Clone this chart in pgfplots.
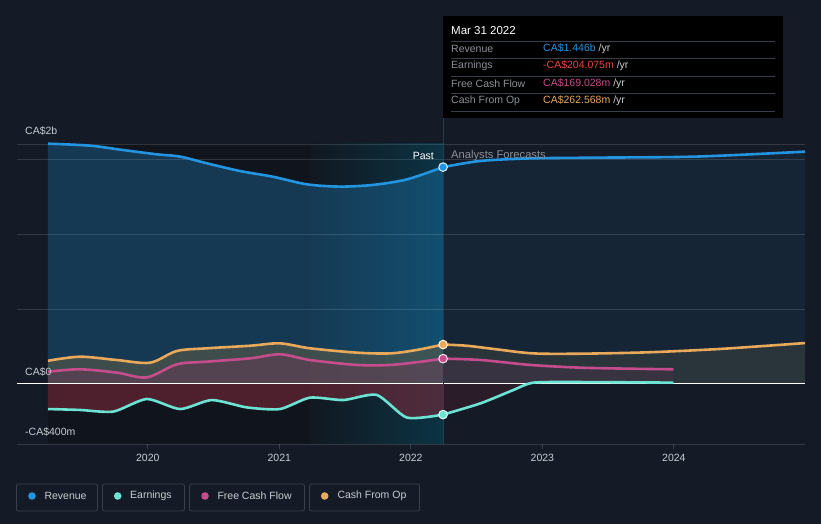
\documentclass[border=0pt]{standalone}
\usepackage{pgfplots}
\pgfplotsset{compat=1.18}
\usepackage{fontspec}
\setmainfont{Liberation Sans}

\definecolor{bg}{HTML}{151B26}
\definecolor{pastdark}{HTML}{10151D}
\definecolor{bandl}{HTML}{111820}
\definecolor{bandr}{HTML}{0C3444}
\definecolor{gridc}{HTML}{3A404B}
\definecolor{vline}{HTML}{23404A}
\definecolor{tickc}{HTML}{C8CCD2}
\definecolor{labc}{HTML}{8C9097}
\definecolor{revc}{HTML}{2394DF}
\definecolor{earnc}{HTML}{6CE3D3}
\definecolor{fcfc}{HTML}{C64D8B}
\definecolor{cfoc}{HTML}{E8AA5A}
\definecolor{redc}{HTML}{E8473F}
\definecolor{cfofill}{HTML}{5A5A48}
\definecolor{cfofillf}{HTML}{505046}
\definecolor{fcffill}{HTML}{6E3A55}
\definecolor{fcffillf}{HTML}{5F3255}
\definecolor{earnfill}{HTML}{82283A}
\definecolor{earnfillf}{HTML}{6A2535}

\begin{document}
\begin{tikzpicture}[x=1pt,y=1pt]
\fill[bg] (0,0) rectangle (821,524);
\begin{axis}[
    at={(17pt,80pt)}, anchor=south west,
    scale only axis, width=788pt, height=300pt,
    xmin=2019.0053, xmax=2024.997,
    ymin=-400, ymax=1600,
    axis line style={draw=none},
    ytick=\empty,
    xtick={2020,2021,2022,2023,2024},
    xticklabels={2020,2021,2022,2023,2024},
    tick align=outside, tick pos=left,
    major tick length=5pt,
    x tick style={draw=gridc, line width=0.8pt},
    xticklabel style={font=\fontsize{10.5}{12}\selectfont, text=tickc, yshift=-2pt},
    clip=false,
]
% past region and last-year band
\fill[pastdark] (axis cs:2019.241,-400) rectangle (axis cs:2021.233,1600);
\shade[left color=bandl, right color=bandr]
    (axis cs:2021.233,-400) rectangle (axis cs:2022.245,1600);

% areas
\addplot[draw=none, fill=revc, fill opacity=0.28, smooth, tension=0.5] coordinates {
(2019.241,1602) (2019.56,1589) (2019.81,1560) (2020.07,1531) (2020.245,1516)
(2020.45,1471) (2020.70,1420) (2020.95,1382) (2021.21,1331) (2021.46,1316)
(2021.71,1327) (2021.97,1364) (2022.245,1446)
} \closedcycle;
\addplot[draw=none, fill=revc, fill opacity=0.09, smooth, tension=0.5] coordinates {
(2022.245,1446) (2022.53,1487) (2022.91,1504) (2023.41,1509) (2024.17,1516) (2024.997,1549)
} \closedcycle;

\addplot[draw=none, fill=cfofill, fill opacity=0.6, smooth, tension=0.5] coordinates {
(2019.241,155) (2019.484,182) (2019.763,160) (2020.017,142) (2020.22,220)
(2020.45,238) (2020.777,255) (2021.005,271) (2021.233,238) (2021.589,209)
(2021.842,204) (2022.045,227) (2022.245,263)
} \closedcycle;
\addplot[draw=none, fill=cfofillf, fill opacity=0.35, smooth, tension=0.5] coordinates {
(2022.245,263) (2022.425,255) (2022.653,231) (2022.929,204) (2023.286,202)
(2023.794,211) (2024.298,231) (2024.678,253) (2024.997,273)
} \closedcycle;

\addplot[draw=none, fill=fcffill, fill opacity=0.45, smooth, tension=0.5] coordinates {
(2019.241,82) (2019.484,98) (2019.763,76) (2019.992,44) (2020.22,131)
(2020.45,149) (2020.777,171) (2021.005,198) (2021.233,160) (2021.589,127)
(2021.842,127) (2022.045,145) (2022.245,169)
} \closedcycle;
\addplot[draw=none, fill=fcffillf, fill opacity=0.25, smooth, tension=0.5] coordinates {
(2022.245,169) (2022.53,160) (2022.91,127) (2023.286,109) (2023.666,102) (2023.996,98)
} \closedcycle;

\addplot[draw=none, fill=earnfill, fill opacity=0.55, smooth, tension=0.4] coordinates {
(2019.241,-167) (2019.484,-173) (2019.738,-184) (2019.992,-100) (2020.245,-167)
(2020.486,-107) (2020.752,-156) (2021.005,-167) (2021.233,-91) (2021.487,-107)
(2021.741,-73) (2021.97,-224) (2022.245,-204)
} \closedcycle;
\addplot[draw=none, fill=earnfillf, fill opacity=0.25, smooth, tension=0.4] coordinates {
(2022.245,-204) (2022.53,-129) (2022.78,-40) (2022.931,9) (2023.286,13) (2023.996,9)
} \closedcycle;

% grid lines
\draw[white, opacity=0.13, line width=0.8pt] (axis cs:2019.0053,500) -- (axis cs:2024.997,500);
\draw[white, opacity=0.13, line width=0.8pt] (axis cs:2019.0053,1000) -- (axis cs:2024.997,1000);
\draw[white, opacity=0.13, line width=0.8pt] (axis cs:2019.0053,1500) -- (axis cs:2024.997,1500);
\draw[white, opacity=0.13, line width=0.8pt] (axis cs:2019.0053,1600) -- (axis cs:2024.997,1600);
\draw[white, opacity=0.13, line width=0.8pt] (axis cs:2019.0053,-400) -- (axis cs:2024.997,-400);
\draw[white, line width=1pt] (axis cs:2019.0053,0) -- (axis cs:2024.997,0);
\draw[vline, line width=0.8pt] (axis cs:2022.245,-400) -- (axis cs:2022.245,1810);

% lines
\addplot[revc, line width=2.6pt, smooth, tension=0.5] coordinates {
(2019.241,1602) (2019.56,1589) (2019.81,1560) (2020.07,1531) (2020.245,1516)
(2020.45,1471) (2020.70,1420) (2020.95,1382) (2021.21,1331) (2021.46,1316)
(2021.71,1327) (2021.97,1364) (2022.245,1446)
};
\addplot[revc, line width=2.6pt, smooth, tension=0.5] coordinates {
(2022.245,1446) (2022.53,1487) (2022.91,1504) (2023.41,1509) (2024.17,1516) (2024.997,1549)
};
\addplot[cfoc, line width=2.6pt, smooth, tension=0.5] coordinates {
(2019.241,155) (2019.484,182) (2019.763,160) (2020.017,142) (2020.22,220)
(2020.45,238) (2020.777,255) (2021.005,271) (2021.233,238) (2021.589,209)
(2021.842,204) (2022.045,227) (2022.245,263)
};
\addplot[cfoc, line width=2.6pt, smooth, tension=0.5] coordinates {
(2022.245,263) (2022.425,255) (2022.653,231) (2022.929,204) (2023.286,202)
(2023.794,211) (2024.298,231) (2024.678,253) (2024.997,273)
};
\addplot[fcfc, line width=2.6pt, smooth, tension=0.5] coordinates {
(2019.241,82) (2019.484,98) (2019.763,76) (2019.992,44) (2020.22,131)
(2020.45,149) (2020.777,171) (2021.005,198) (2021.233,160) (2021.589,127)
(2021.842,127) (2022.045,145) (2022.245,169)
};
\addplot[fcfc, line width=2.6pt, smooth, tension=0.5] coordinates {
(2022.245,169) (2022.53,160) (2022.91,127) (2023.286,109) (2023.666,102) (2023.996,98)
};
\addplot[earnc, line width=2.6pt, smooth, tension=0.4] coordinates {
(2019.241,-167) (2019.484,-173) (2019.738,-184) (2019.992,-100) (2020.245,-167)
(2020.486,-107) (2020.752,-156) (2021.005,-167) (2021.233,-91) (2021.487,-107)
(2021.741,-73) (2021.97,-224) (2022.245,-204)
};
\addplot[earnc, line width=2.6pt, smooth, tension=0.4] coordinates {
(2022.245,-204) (2022.53,-129) (2022.78,-40) (2022.931,9) (2023.286,13) (2023.996,9)
};

% markers at the selected date
\addplot[only marks, mark=*, mark size=4.3pt, mark options={fill=revc, draw=white!85!revc, line width=1pt}] coordinates {(2022.245,1446)};
\addplot[only marks, mark=*, mark size=4.3pt, mark options={fill=cfoc, draw=white!85!cfoc, line width=1pt}] coordinates {(2022.245,263)};
\addplot[only marks, mark=*, mark size=4.3pt, mark options={fill=fcfc, draw=white!85!fcfc, line width=1pt}] coordinates {(2022.245,169)};
\addplot[only marks, mark=*, mark size=4.3pt, mark options={fill=earnc, draw=white!85!earnc, line width=1pt}] coordinates {(2022.245,-204)};
\end{axis}

% axis value labels
\begin{scope}[every node/.style={font=\fontsize{10.5}{12}\selectfont, inner sep=0pt, anchor=west, text=tickc}]
\node at (25,393) {CA\$2b};
\node at (25,152) {CA\$0};
\node at (25,92) {-CA\$400m};
\node[anchor=east, text=white] at (434,368) {Past};
\node[text=labc, font=\fontsize{11.2}{13}\selectfont] at (451,368) {Analysts Forecasts};
\end{scope}

% tooltip
\fill[black] (443,406) rectangle (783,508);
\foreach \yy in {482.7,465.7,448,430.7,413}{\draw[gridc, line width=0.7pt] (451,\yy) -- (775,\yy);}
\begin{scope}[every node/.style={font=\fontsize{10.5}{12}\selectfont, inner sep=0pt, anchor=west}]
\node[text=white, font=\fontsize{11.5}{13}\selectfont] at (451,493) {Mar 31 2022};
\node[text=labc] at (451,475) {Revenue};
\node[text=labc] at (451,458) {Earnings};
\node[text=labc] at (451,440) {Free Cash Flow};
\node[text=labc] at (451,423) {Cash From Op};
\node at (543,475) {\textcolor{revc}{CA\$1.446b}\ \textcolor{tickc}{/yr}};
\node at (543,458) {\textcolor{redc}{-CA\$204.075m}\ \textcolor{tickc}{/yr}};
\node at (543,440) {\textcolor{fcfc}{CA\$169.028m}\ \textcolor{tickc}{/yr}};
\node at (543,423) {\textcolor{cfoc}{CA\$262.568m}\ \textcolor{tickc}{/yr}};
\end{scope}

% legend
\begin{scope}[every node/.style={font=\fontsize{10.5}{12}\selectfont, inner sep=0pt, anchor=west, text=tickc}]
\draw[gridc, line width=0.8pt, rounded corners=2pt] (16.5,13) rectangle (97.5,40);
\draw[gridc, line width=0.8pt, rounded corners=2pt] (102.5,13) rectangle (184.5,40);
\draw[gridc, line width=0.8pt, rounded corners=2pt] (189.5,13) rectangle (304.5,40);
\draw[gridc, line width=0.8pt, rounded corners=2pt] (309.5,13) rectangle (419.5,40);
\fill[revc] (32,28) circle (3.8);
\fill[earnc] (117.7,28) circle (3.8);
\fill[fcfc] (205,28) circle (3.8);
\fill[cfoc] (324.7,28) circle (3.8);
\node at (44.3,28) {Revenue};
\node at (130,28) {Earnings};
\node at (217.3,28) {Free Cash Flow};
\node at (337.3,28) {Cash From Op};
\end{scope}
\end{tikzpicture}
\end{document}
